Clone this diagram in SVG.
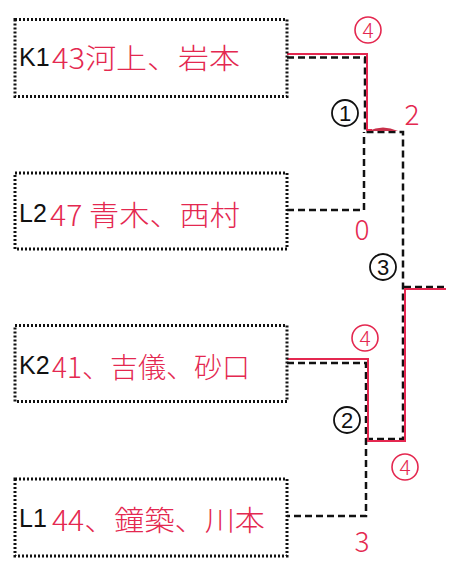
<svg xmlns="http://www.w3.org/2000/svg" width="451" height="562" viewBox="0 0 451 562">
<style>
.box{fill:#fff;stroke:#111;stroke-width:3;stroke-dasharray:2 2}
.lab{font-family:"Liberation Sans",Arial,sans-serif;font-size:25px;fill:#111}
.hw{font-family:"Noto Sans CJK JP","Noto Sans",sans-serif;font-size:28px;fill:#e42850;font-weight:300}
.dash{fill:none;stroke:#111;stroke-width:2.5;stroke-dasharray:7 4}
.red{fill:none;stroke:#e42850;stroke-width:2}
.circ{fill:none;stroke:#e42850;stroke-width:1.6}
.num{font-family:"Noto Sans CJK JP","Noto Sans",sans-serif;font-size:21px;fill:#e42850;text-anchor:middle;font-weight:300}
.bc{fill:none;stroke:#111;stroke-width:1.8}
.bnum{font-family:"Liberation Sans",Arial,sans-serif;font-size:22px;fill:#111;text-anchor:middle}
.hnum{font-family:"Noto Sans CJK JP","Noto Sans",sans-serif;font-size:28px;fill:#e42850;text-anchor:middle;font-weight:300}
</style>
<rect width="451" height="562" fill="#fff"/>
<g id="connectors">
<path class="dash" d="M287 57.5H365V132H403V440"/>
<path class="dash" d="M287 210H364V132"/>
<path class="dash" d="M287 363H366V516H287"/>
<path class="dash" d="M366 439H403"/>
<path class="dash" d="M404 287H446"/>
<path class="red" d="M287 54H367V130H372"/>
<path d="M368 131Q383 124 398 131Z" fill="#c8304a"/>
<path class="red" d="M287 359H368V441H405V289H446"/>
</g>
<g id="K1">
<rect class="box" x="15" y="19.5" width="272" height="77"/>
<text class="lab" x="19" y="66">K1</text>
<text class="hw" x="52" y="69" textLength="188" lengthAdjust="spacingAndGlyphs">43河上、岩本</text>
</g>
<g id="L2">
<rect class="box" x="15" y="173" width="272" height="76"/>
<text class="lab" x="19" y="222">L2</text>
<text class="hw" x="50" y="226" textLength="190" lengthAdjust="spacingAndGlyphs">47 青木、西村</text>
</g>
<g id="K2">
<rect class="box" x="15" y="325.5" width="272" height="76"/>
<text class="lab" x="19" y="374">K2</text>
<text class="hw" x="52" y="378" textLength="198" lengthAdjust="spacingAndGlyphs">41、吉儀、砂口</text>
</g>
<g id="L1">
<rect class="box" x="15" y="479" width="272" height="77"/>
<text class="lab" x="19" y="527">L1</text>
<text class="hw" x="52" y="531" textLength="213" lengthAdjust="spacingAndGlyphs">44、鐘築、川本</text>
</g>
<g id="marks">
<circle class="circ" cx="368" cy="30" r="13"/>
<text class="num" x="368" y="38">4</text>
<circle class="circ" cx="365" cy="338" r="13"/>
<text class="num" x="365" y="346">4</text>
<circle class="circ" cx="405" cy="467" r="13"/>
<text class="num" x="405" y="475">4</text>
<circle class="bc" cx="345" cy="113" r="13"/>
<text class="bnum" x="345" y="121">1</text>
<circle class="bc" cx="383" cy="267" r="13"/>
<text class="bnum" x="383" y="275">3</text>
<circle class="bc" cx="347" cy="420" r="13"/>
<text class="bnum" x="347" y="428">2</text>
<text class="hnum" x="412" y="125">2</text>
<text class="hnum" x="362" y="240">0</text>
<text class="hnum" x="362" y="552">3</text>
</g>
</svg>
